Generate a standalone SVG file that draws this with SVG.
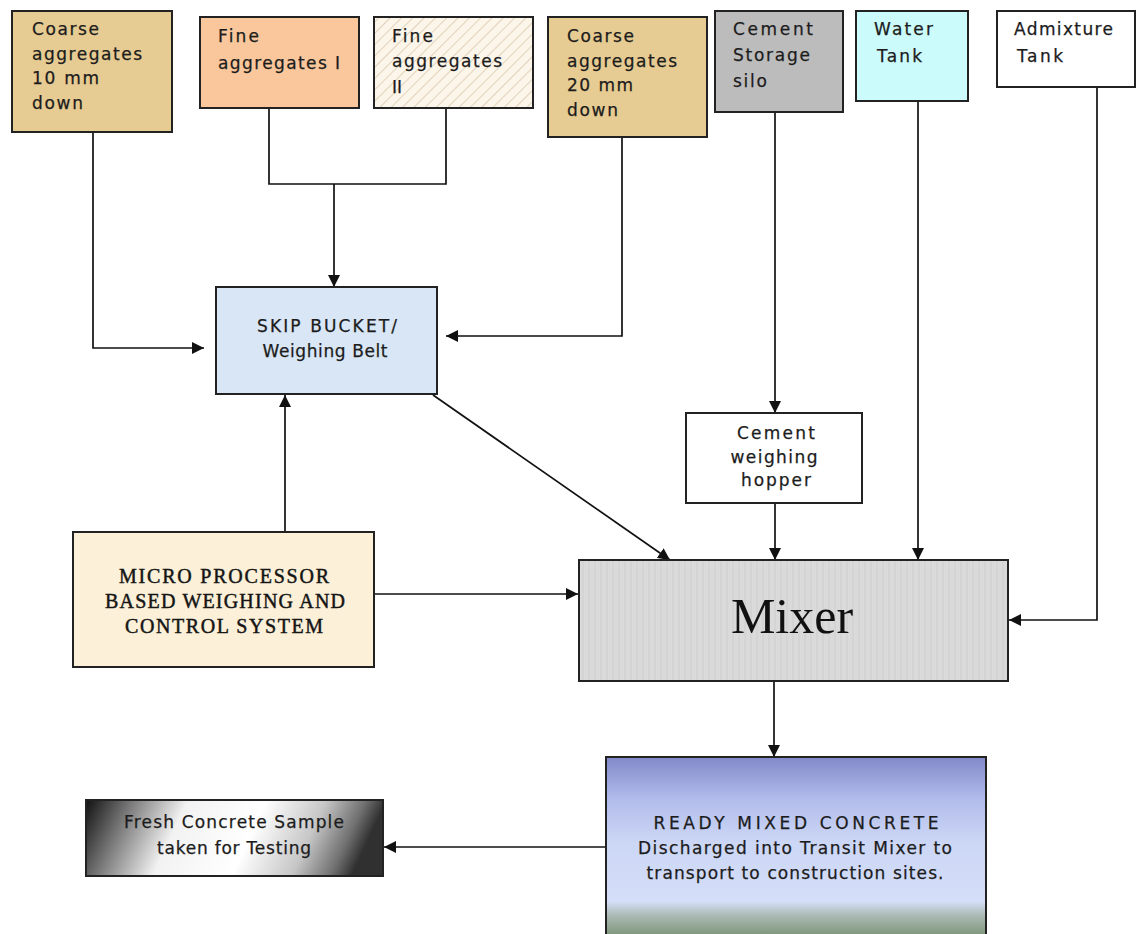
<svg xmlns="http://www.w3.org/2000/svg" width="1136" height="934" viewBox="0 0 1136 934">
<defs>
<style>
.box{stroke:#222;stroke-width:2}
.t{font-family:"DejaVu Sans","Liberation Sans",sans-serif;font-size:17px;fill:#1c1c1c;stroke:#1c1c1c;stroke-width:0.25}
.tc{font-family:"DejaVu Sans","Liberation Sans",sans-serif;font-size:17px;fill:#1c1c1c;stroke:#1c1c1c;stroke-width:0.25;text-anchor:middle}
.ts{font-family:"Liberation Serif","DejaVu Serif",serif;font-size:20px;fill:#151515;stroke:#151515;stroke-width:0.45;text-anchor:middle}
.con{fill:none;stroke:#111;stroke-width:1.7}
</style>
<marker id="ah" viewBox="0 0 10 10" refX="10" refY="5" markerWidth="12" markerHeight="12" markerUnits="userSpaceOnUse" orient="auto">
<path d="M0,0 L10,5 L0,10 z" fill="#111"/>
</marker>
<pattern id="hatch" width="8" height="8" patternUnits="userSpaceOnUse" patternTransform="rotate(45)">
<rect width="8" height="8" fill="#fcf5ea"/>
<line x1="0" y1="0" x2="0" y2="8" stroke="#e2d2ba" stroke-width="2"/>
</pattern>
<pattern id="vstripe" width="6" height="6" patternUnits="userSpaceOnUse">
<rect width="6" height="6" fill="#dadada"/>
<line x1="1" y1="0" x2="1" y2="6" stroke="#cfcfcf" stroke-width="1"/>
</pattern>
<linearGradient id="rmc" x1="0" y1="0" x2="0" y2="1">
<stop offset="0" stop-color="#8289c8"/>
<stop offset="0.22" stop-color="#b2bceb"/>
<stop offset="0.45" stop-color="#ccd7f6"/>
<stop offset="0.76" stop-color="#d4def8"/>
<stop offset="0.84" stop-color="#a8b8b0"/>
<stop offset="1" stop-color="#66805a"/>
</linearGradient>
<linearGradient id="fresh" x1="0" y1="0" x2="1" y2="0.12">
<stop offset="0" stop-color="#111111"/>
<stop offset="0.14" stop-color="#707070"/>
<stop offset="0.34" stop-color="#f2f2f2"/>
<stop offset="0.6" stop-color="#ffffff"/>
<stop offset="0.8" stop-color="#c6c6c6"/>
<stop offset="0.93" stop-color="#707070"/>
<stop offset="1" stop-color="#303030"/>
</linearGradient>
</defs>
<rect width="1136" height="934" fill="#ffffff"/>

<g id="connectors">
<path class="con" d="M93,132 V348 H204" marker-end="url(#ah)"/>
<path class="con" d="M269,108 V184 H446 V108"/>
<path class="con" d="M334,184 V287" marker-end="url(#ah)"/>
<path class="con" d="M622,137 V336 H446" marker-end="url(#ah)"/>
<path class="con" d="M775,112 V413" marker-end="url(#ah)"/>
<path class="con" d="M285,532 V395" marker-end="url(#ah)"/>
<path class="con" d="M374,594 H578" marker-end="url(#ah)"/>
<path class="con" d="M433,395 L670,560" stroke-width="1.3" marker-end="url(#ah)"/>
<path class="con" d="M775,503 V560" marker-end="url(#ah)"/>
<path class="con" d="M918,101 V560" marker-end="url(#ah)"/>
<path class="con" d="M1097,87 V620 H1009" marker-end="url(#ah)"/>
<path class="con" d="M774,681 V757" marker-end="url(#ah)"/>
<path class="con" d="M606,847 H384" marker-end="url(#ah)"/>
</g>

<g id="coarse10">
<rect class="box" x="12" y="11" width="160" height="121" fill="#e6cb92"/>
<text class="t" x="32" y="35" textLength="67" lengthAdjust="spacing">Coarse</text>
<text class="t" x="32" y="60" textLength="110" lengthAdjust="spacing">aggregates</text>
<text class="t" x="32" y="84" textLength="67" lengthAdjust="spacing">10 mm</text>
<text class="t" x="32" y="109" textLength="51" lengthAdjust="spacing">down</text>
</g>

<g id="fine1">
<rect class="box" x="200" y="17" width="159" height="91" fill="#f9c79b"/>
<text class="t" x="218" y="42" textLength="41" lengthAdjust="spacing">Fine</text>
<text class="t" x="218" y="69" textLength="122" lengthAdjust="spacing">aggregates I</text>
</g>

<g id="fine2">
<rect class="box" x="374" y="17" width="159" height="91" fill="url(#hatch)"/>
<text class="t" x="392" y="42" textLength="41" lengthAdjust="spacing">Fine</text>
<text class="t" x="392" y="67" textLength="110" lengthAdjust="spacing">aggregates</text>
<text class="t" x="392" y="93">II</text>
</g>

<g id="coarse20">
<rect class="box" x="548" y="17" width="159" height="120" fill="#e6cb92"/>
<text class="t" x="567" y="42" textLength="67" lengthAdjust="spacing">Coarse</text>
<text class="t" x="567" y="67" textLength="110" lengthAdjust="spacing">aggregates</text>
<text class="t" x="567" y="91" textLength="66" lengthAdjust="spacing">20 mm</text>
<text class="t" x="567" y="116" textLength="51" lengthAdjust="spacing">down</text>
</g>

<g id="silo">
<rect class="box" x="715" y="11" width="128" height="101" fill="#bcbcbc"/>
<text class="t" x="733" y="35" textLength="80" lengthAdjust="spacing">Cement</text>
<text class="t" x="733" y="61" textLength="77" lengthAdjust="spacing">Storage</text>
<text class="t" x="733" y="87" textLength="34" lengthAdjust="spacing">silo</text>
</g>

<g id="water">
<rect class="box" x="856" y="11" width="112" height="90" fill="#ccfbfb"/>
<text class="t" x="874" y="35" textLength="59" lengthAdjust="spacing">Water</text>
<text class="t" x="877" y="62" textLength="45" lengthAdjust="spacing">Tank</text>
</g>

<g id="admixture">
<rect class="box" x="997" y="11" width="138" height="76" fill="#ffffff"/>
<text class="t" x="1014" y="35" textLength="99" lengthAdjust="spacing">Admixture</text>
<text class="t" x="1017" y="62" textLength="46" lengthAdjust="spacing">Tank</text>
</g>

<g id="skip">
<rect class="box" x="216" y="287" width="221" height="107" fill="#d9e6f5"/>
<text class="tc" x="327" y="332" font-size="16" textLength="140" lengthAdjust="spacing">SKIP BUCKET/</text>
<text class="tc" x="325" y="357" font-size="16" textLength="125" lengthAdjust="spacing">Weighing Belt</text>
</g>

<g id="micro">
<rect class="box" x="73" y="532" width="301" height="135" fill="#fcf0d8"/>
<text class="ts" x="224" y="583" textLength="210" lengthAdjust="spacing">MICRO PROCESSOR</text>
<text class="ts" x="225" y="608" textLength="240" lengthAdjust="spacing">BASED WEIGHING AND</text>
<text class="ts" x="224" y="633" textLength="198" lengthAdjust="spacing">CONTROL SYSTEM</text>
</g>

<g id="hopper">
<rect class="box" x="686" y="413" width="176" height="90" fill="#ffffff"/>
<text class="tc" x="776" y="439" textLength="78" lengthAdjust="spacing">Cement</text>
<text class="tc" x="774" y="463" textLength="87" lengthAdjust="spacing">weighing</text>
<text class="tc" x="776" y="486" textLength="70" lengthAdjust="spacing">hopper</text>
</g>

<g id="mixer">
<rect class="box" x="579" y="560" width="429" height="121" fill="url(#vstripe)"/>
<text x="792" y="633" font-family="Liberation Serif, DejaVu Serif, serif" font-size="50" fill="#111" text-anchor="middle">Mixer</text>
</g>

<g id="rmc">
<rect class="box" x="606" y="757" width="380" height="190" fill="url(#rmc)"/>
<text class="tc" x="796" y="829" font-size="17.5" fill="#161630" textLength="285" lengthAdjust="spacing">READY MIXED CONCRETE</text>
<text class="tc" x="795" y="854" font-size="17.5" textLength="314" lengthAdjust="spacing">Discharged into Transit Mixer to</text>
<text class="tc" x="795" y="879" font-size="17.5" textLength="297" lengthAdjust="spacing">transport to construction sites.</text>
</g>

<g id="fresh">
<rect class="box" x="86" y="800" width="297" height="76" fill="url(#fresh)"/>
<text class="tc" x="234" y="828" textLength="220" lengthAdjust="spacing">Fresh Concrete Sample</text>
<text class="tc" x="234" y="854" textLength="154" lengthAdjust="spacing">taken for Testing</text>
</g>
</svg>
